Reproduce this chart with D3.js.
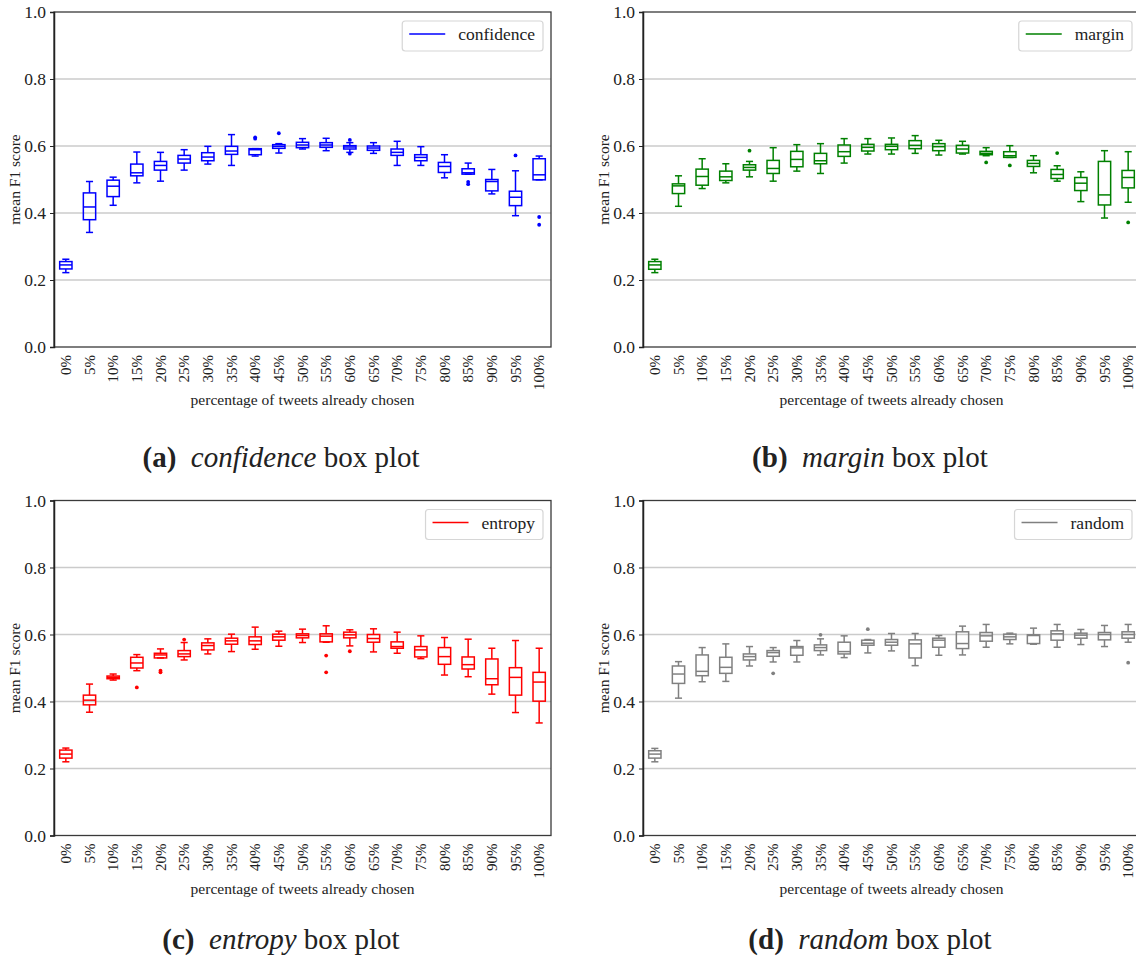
<!DOCTYPE html>
<html>
<head>
<meta charset="utf-8">
<script src="https://cdn.jsdelivr.net/npm/d3@7"></script>
<style>
  body { margin: 0; background: #fff; }
  text { font-family: "Liberation Serif", "DejaVu Serif", serif; fill: #222; }
</style>
</head>
<body>
<div id="chart"></div>
<script>
// Tick labels along the x axis
const categories = ["0%", "5%", "10%", "15%", "20%", "25%", "30%", "35%", "40%", "45%", "50%",
  "55%", "60%", "65%", "70%", "75%", "80%", "85%", "90%", "95%", "100%"];

const yTicks = [0, 0.2, 0.4, 0.6, 0.8, 1.0];

// Box stats per category: [whisker low, q1, median, q3, whisker high]
const confidenceBoxes = [
  [0.222, 0.233, 0.245, 0.255, 0.262], [0.342, 0.380, 0.418, 0.460, 0.494], [0.423, 0.449, 0.480, 0.498, 0.507],
  [0.490, 0.511, 0.520, 0.546, 0.582], [0.495, 0.528, 0.542, 0.554, 0.581], [0.528, 0.549, 0.561, 0.572, 0.589],
  [0.546, 0.556, 0.567, 0.580, 0.599], [0.542, 0.575, 0.585, 0.599, 0.634], [0.570, 0.574, 0.589, 0.592, 0.592],
  [0.579, 0.593, 0.599, 0.604, 0.607], [0.591, 0.595, 0.603, 0.611, 0.622], [0.586, 0.596, 0.603, 0.610, 0.623],
  [0.581, 0.591, 0.597, 0.601, 0.610], [0.578, 0.587, 0.594, 0.600, 0.610], [0.542, 0.572, 0.581, 0.591, 0.614],
  [0.542, 0.556, 0.566, 0.574, 0.598], [0.505, 0.521, 0.539, 0.551, 0.574], [0.516, 0.516, 0.520, 0.532, 0.549],
  [0.457, 0.466, 0.494, 0.500, 0.530], [0.392, 0.422, 0.447, 0.465, 0.526], [0.499, 0.499, 0.514, 0.562, 0.570]
];
// Outliers: [category index, value]
const confidenceOutliers = [[8, 0.622], [8, 0.626], [9, 0.638], [12, 0.618], [12, 0.577],
  [17, 0.493], [17, 0.486], [19, 0.572], [20, 0.388], [20, 0.365]];

const marginBoxes = [
  [0.222, 0.232, 0.245, 0.255, 0.262], [0.420, 0.458, 0.481, 0.487, 0.511], [0.473, 0.483, 0.509, 0.531, 0.562],
  [0.490, 0.497, 0.508, 0.525, 0.547], [0.508, 0.528, 0.536, 0.544, 0.554], [0.495, 0.518, 0.533, 0.557, 0.595],
  [0.525, 0.538, 0.560, 0.584, 0.604], [0.518, 0.547, 0.556, 0.578, 0.607], [0.549, 0.569, 0.583, 0.603, 0.622],
  [0.576, 0.585, 0.596, 0.605, 0.622], [0.576, 0.589, 0.599, 0.605, 0.624], [0.578, 0.592, 0.602, 0.616, 0.631],
  [0.573, 0.586, 0.598, 0.607, 0.617], [0.576, 0.579, 0.591, 0.602, 0.614], [0.571, 0.574, 0.578, 0.584, 0.595],
  [0.566, 0.566, 0.571, 0.583, 0.601], [0.520, 0.539, 0.548, 0.557, 0.571], [0.495, 0.503, 0.515, 0.530, 0.541],
  [0.434, 0.467, 0.489, 0.506, 0.523], [0.385, 0.424, 0.454, 0.554, 0.586], [0.432, 0.475, 0.506, 0.527, 0.583]
];
const marginOutliers = [[4, 0.586], [14, 0.551], [15, 0.542], [17, 0.579], [20, 0.372]];

const entropyBoxes = [
  [0.220, 0.231, 0.243, 0.255, 0.261], [0.368, 0.390, 0.404, 0.419, 0.452], [0.464, 0.468, 0.472, 0.476, 0.482],
  [0.492, 0.500, 0.515, 0.532, 0.540], [0.530, 0.530, 0.539, 0.544, 0.557], [0.524, 0.534, 0.542, 0.552, 0.576],
  [0.542, 0.554, 0.567, 0.575, 0.587], [0.549, 0.571, 0.581, 0.589, 0.601], [0.556, 0.570, 0.581, 0.593, 0.622],
  [0.565, 0.583, 0.593, 0.601, 0.610], [0.576, 0.590, 0.597, 0.602, 0.616], [0.577, 0.578, 0.595, 0.602, 0.626],
  [0.566, 0.590, 0.599, 0.607, 0.614], [0.548, 0.577, 0.588, 0.600, 0.617], [0.544, 0.559, 0.564, 0.578, 0.607],
  [0.528, 0.533, 0.554, 0.564, 0.596], [0.479, 0.511, 0.534, 0.561, 0.591], [0.474, 0.497, 0.510, 0.533, 0.586],
  [0.422, 0.450, 0.468, 0.527, 0.559], [0.367, 0.419, 0.472, 0.501, 0.582], [0.336, 0.401, 0.458, 0.487, 0.559]
];
const entropyOutliers = [[3, 0.442], [4, 0.492], [4, 0.487], [5, 0.585], [11, 0.537], [11, 0.487], [12, 0.550]];

const randomBoxes = [
  [0.220, 0.231, 0.243, 0.253, 0.260], [0.410, 0.454, 0.482, 0.506, 0.519], [0.459, 0.477, 0.490, 0.539, 0.561],
  [0.460, 0.484, 0.502, 0.532, 0.572], [0.506, 0.524, 0.534, 0.542, 0.564], [0.518, 0.535, 0.546, 0.552, 0.561],
  [0.518, 0.538, 0.560, 0.564, 0.582], [0.539, 0.552, 0.561, 0.569, 0.587], [0.531, 0.542, 0.549, 0.577, 0.596],
  [0.545, 0.568, 0.574, 0.583, 0.585], [0.551, 0.568, 0.577, 0.585, 0.603], [0.507, 0.530, 0.572, 0.584, 0.603],
  [0.538, 0.562, 0.583, 0.589, 0.597], [0.539, 0.558, 0.573, 0.608, 0.625], [0.562, 0.580, 0.596, 0.606, 0.630],
  [0.572, 0.585, 0.593, 0.601, 0.604], [0.571, 0.573, 0.597, 0.599, 0.619], [0.562, 0.583, 0.602, 0.611, 0.630],
  [0.570, 0.589, 0.598, 0.604, 0.615], [0.564, 0.584, 0.600, 0.606, 0.627], [0.577, 0.589, 0.600, 0.608, 0.630]
];
const randomOutliers = [[5, 0.484], [7, 0.599], [9, 0.616], [20, 0.516]];

// Panel layout
const plotWidth = 497, plotHeight = 335;

const panels = [
  { name: "confidence", letter: "(a)", color: "#0000ff", boxes: confidenceBoxes, outliers: confidenceOutliers, left: 54, top: 12 },
  { name: "margin", letter: "(b)", color: "#008000", boxes: marginBoxes, outliers: marginOutliers, left: 643, top: 12 },
  { name: "entropy", letter: "(c)", color: "#ff0000", boxes: entropyBoxes, outliers: entropyOutliers, left: 54, top: 500.5 },
  { name: "random", letter: "(d)", color: "#808080", boxes: randomBoxes, outliers: randomOutliers, left: 643, top: 500.5 }
];

const svg = d3.select("#chart")
  .append("svg")
  .attr("width", 1136)
  .attr("height", 962);

const x = d3.scaleBand()
  .domain(categories)
  .range([0, plotWidth]);

const y = d3.scaleLinear()
  .domain([0, 1])
  .range([plotHeight, 0]);

const boxW = x.bandwidth() * 0.52;
const capW = x.bandwidth() * 0.3;

panels.forEach((p) => {
  const g = svg.append("g")
    .attr("transform", `translate(${p.left},${p.top})`);

  // horizontal grid
  g.selectAll(".grid")
    .data(yTicks.filter((t) => t > 0 && t < 1))
    .enter()
    .append("line")
    .attr("x1", 0)
    .attr("x2", plotWidth)
    .attr("y1", (d) => y(d))
    .attr("y2", (d) => y(d))
    .attr("stroke", "#cbcbcb")
    .attr("stroke-width", 1.5);

  // frame
  g.append("rect")
    .attr("width", plotWidth)
    .attr("height", plotHeight)
    .attr("fill", "none")
    .attr("stroke", "#3a3a3a")
    .attr("stroke-width", 1.3);

  // y axis
  const yAxis = g.append("g")
    .call(d3.axisLeft(y).tickValues(yTicks).tickFormat(d3.format(".1f")).tickSize(4).tickPadding(4));
  yAxis.select(".domain").attr("stroke", "#222").attr("stroke-width", 1.5);
  yAxis.selectAll(".tick line").attr("stroke", "#222");
  yAxis.selectAll("text")
    .style("font-family", "Liberation Serif")
    .style("font-size", "17.5px")
    .attr("fill", "#222");

  // x tick labels, rotated
  g.selectAll(".xlab")
    .data(categories)
    .enter()
    .append("text")
    .attr("transform", (d) => `translate(${x(d) + x.bandwidth() / 2},${plotHeight + 8}) rotate(-90)`)
    .attr("text-anchor", "end")
    .attr("dy", "0.35em")
    .style("font-size", "15px")
    .text((d) => d);

  // axis titles
  g.append("text")
    .attr("x", plotWidth / 2)
    .attr("y", plotHeight + 58)
    .attr("text-anchor", "middle")
    .style("font-size", "15.5px")
    .text("percentage of tweets already chosen");

  g.append("text")
    .attr("transform", `translate(${-39},${plotHeight / 2}) rotate(-90)`)
    .attr("text-anchor", "middle")
    .attr("dy", "0.35em")
    .style("font-size", "15.5px")
    .text("mean F1 score");

  // boxes
  const boxes = g.selectAll(".box")
    .data(p.boxes)
    .enter()
    .append("g")
    .attr("transform", (d, i) => `translate(${x(categories[i]) + x.bandwidth() / 2},0)`)
    .attr("stroke", p.color)
    .attr("stroke-width", 1.5)
    .attr("fill", "none");

  boxes.append("line")
    .attr("y1", (d) => y(d[0]))
    .attr("y2", (d) => y(d[1]));
  boxes.append("line")
    .attr("y1", (d) => y(d[3]))
    .attr("y2", (d) => y(d[4]));
  boxes.append("line")
    .attr("x1", -capW / 2).attr("x2", capW / 2)
    .attr("y1", (d) => y(d[0])).attr("y2", (d) => y(d[0]));
  boxes.append("line")
    .attr("x1", -capW / 2).attr("x2", capW / 2)
    .attr("y1", (d) => y(d[4])).attr("y2", (d) => y(d[4]));
  boxes.append("rect")
    .attr("x", -boxW / 2)
    .attr("width", boxW)
    .attr("y", (d) => y(d[3]))
    .attr("height", (d) => y(d[1]) - y(d[3]));
  boxes.append("line")
    .attr("x1", -boxW / 2).attr("x2", boxW / 2)
    .attr("y1", (d) => y(d[2])).attr("y2", (d) => y(d[2]));

  // outliers
  g.selectAll(".flier")
    .data(p.outliers)
    .enter()
    .append("circle")
    .attr("cx", (d) => x(categories[d[0]]) + x.bandwidth() / 2)
    .attr("cy", (d) => y(d[1]))
    .attr("r", 1.9)
    .attr("fill", p.color);

  // legend, anchored to the right of the plot
  const legend = g.append("g");
  const lbox = legend.append("rect")
    .attr("fill", "#fff")
    .attr("stroke", "#d6d6d6")
    .attr("stroke-width", 1.2)
    .attr("rx", 3);
  const ltext = legend.append("text")
    .attr("dy", "0.35em")
    .style("font-size", "17.5px")
    .text(p.name);
  const tw = ltext.node().getComputedTextLength();
  const legW = 7 + 36 + 13 + tw + 8;
  const legX = 489 - legW;
  lbox.attr("x", legX).attr("y", 9).attr("width", legW).attr("height", 30);
  legend.append("line")
    .attr("x1", legX + 7).attr("x2", legX + 43)
    .attr("y1", 22).attr("y2", 22)
    .attr("stroke", p.color)
    .attr("stroke-width", 1.5);
  ltext.attr("x", legX + 56).attr("y", 22);

  // caption
  const cap = svg.append("text")
    .attr("x", p.left + 227)
    .attr("y", p.top + (p.top === 12 ? 455 : 448))
    .attr("text-anchor", "middle")
    .style("font-size", "29px");
  cap.append("tspan").style("font-weight", "bold").text(p.letter);
  cap.append("tspan").text("\u2002");
  cap.append("tspan").style("font-style", "italic").text(p.name);
  cap.append("tspan").text(" box plot");
});
</script>
</body>
</html>
